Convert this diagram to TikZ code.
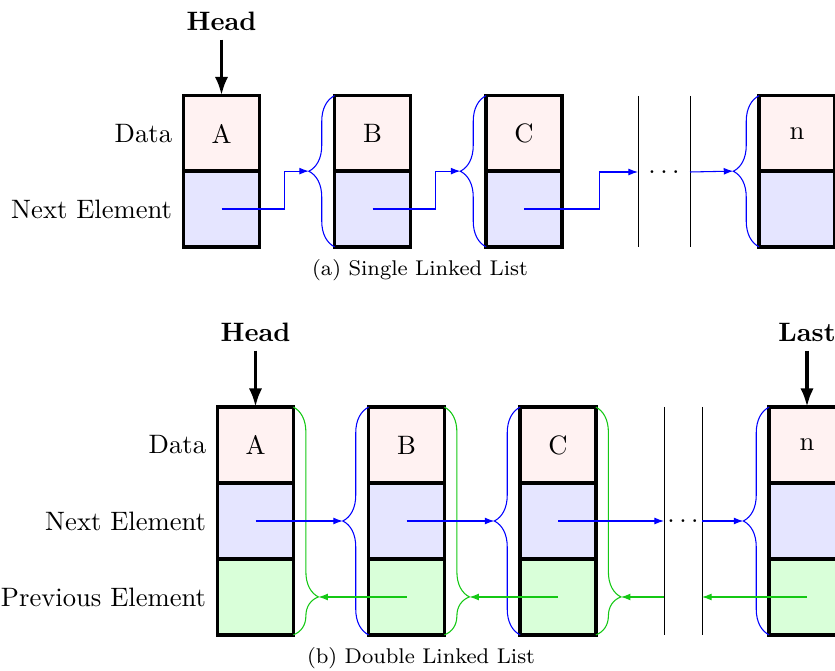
\documentclass[tikz,border=0pt]{standalone}
\usetikzlibrary{arrows.meta,decorations.pathreplacing,calc}
\definecolor{prevgreen}{RGB}{20,200,20}
\begin{document}
\begin{tikzpicture}[
  x=0.0131926cm, y=-0.0131926cm,
  cell/.style={draw, line width=1.3pt, minimum width=1cm, minimum height=1cm,
               inner sep=0pt, outer sep=0pt},
  datacell/.style={cell, fill=red!5},
  nextcell/.style={cell, fill=blue!10},
  prevcell/.style={cell, fill=green!15},
  rowlabel/.style={anchor=east, xshift=-0.8pt},
  nptr/.style={blue, line width=0.4pt, -{Latex[length=3.6pt,width=2.6pt]}},
  pptr/.style={prevgreen, line width=0.4pt, -{Latex[length=3.6pt,width=2.6pt]}},
  nbrace/.style={blue, line width=0.4pt, decorate, decoration={brace, amplitude=0.34cm}},
  pbrace/.style={prevgreen, line width=0.4pt, decorate, decoration={brace, amplitude=0.33cm, aspect=0.8333}},
  headarrow/.style={line width=1.5pt, -{Latex[length=7pt,width=5pt]}},
  sepline/.style={black, line width=0.35pt},
  caption/.style={font=\footnotesize}
]
\useasboundingbox (0,0) rectangle (835,671);
\clip (0,0) rectangle (835,671);

% ---------------- (a) single linked list ----------------
\foreach \n/\x/\t in {A1/221.5/A, B1/372.5/B, C1/524/C, N1/797/n} {
  \node[datacell] (\n d) at (\x,133.5) {\t};
  \node[nextcell] (\n n) at (\x,209) {};
}
\node[rowlabel] (lab1d) at (A1d.west) {Data};
\node[rowlabel] (lab1n) at (A1n.west) {Next Element};

\node[font=\bfseries] (head1) at (221.5,21) {Head};
\draw[headarrow] (head1) -- (A1d);

% gap between C and n
\coordinate (s1t) at (638,96);  \coordinate (s1b) at (638,247);
\coordinate (s2t) at (690,96);  \coordinate (s2b) at (690,247);
\draw[sepline] (s1t) -- (s1b);
\draw[sepline] (s2t) -- (s2b);
\node (dots1) at (664,172) {$\dots$};
\coordinate (g1) at (638,172);
\coordinate (g2) at (690,172);

% braces in front of each successor
\foreach \n in {B1, C1, N1}
  \draw[nbrace] (\n n.south west) -- (\n d.north west);
\coordinate (tB1) at ($(B1n.north west)+(-0.34cm,0)$);
\coordinate (tC1) at ($(C1n.north west)+(-0.34cm,0)$);
\coordinate (tN1) at ($(N1n.north west)+(-0.34cm,0)$);

% next pointers
\draw[nptr] (A1n.center) -| ($(A1n.east)!0.5!(tB1)$) |- (tB1);
\draw[nptr] (B1n.center) -| ($(B1n.east)!0.5!(tC1)$) |- (tC1);
\draw[nptr] (C1n.center) -| ($(C1n.east)!0.5!(g1)$) |- (g1);
\draw[nptr] (g2) -- (tN1);

\node[caption] (capa) at (420,270) {(a) Single Linked List};

% ---------------- (b) double linked list ----------------
\foreach \n/\x/\t in {A2/255.5/A, B2/406.5/B, C2/558/C, N2/807/n} {
  \node[datacell] (\n d) at (\x,445) {\t};
  \node[nextcell] (\n n) at (\x,521) {};
  \node[prevcell] (\n p) at (\x,597) {};
}
\node[rowlabel] (lab2d) at (A2d.west) {Data};
\node[rowlabel] (lab2n) at (A2n.west) {Next Element};
\node[rowlabel] (lab2p) at (A2p.west) {Previous Element};

\node[font=\bfseries] (head2) at (255.5,332) {Head};
\draw[headarrow] (head2) -- (A2d);
\node[font=\bfseries] (last2) at (807,332) {Last};
\draw[headarrow] (last2) -- (N2d);

\coordinate (s3t) at (664,407);  \coordinate (s3b) at (664,635);
\coordinate (s4t) at (702,407);  \coordinate (s4b) at (702,635);
\draw[sepline] (s3t) -- (s3b);
\draw[sepline] (s4t) -- (s4b);
\node (dots2) at (683,521) {$\dots$};
\coordinate (h1) at (664,521);
\coordinate (h2) at (702,521);
\coordinate (h1p) at (664,597);
\coordinate (h2p) at (702,597);

% next braces (left) and previous braces (right)
\foreach \n in {B2, C2, N2}
  \draw[nbrace] (\n p.south west) -- (\n d.north west);
\foreach \n in {A2, B2, C2}
  \draw[pbrace] (\n d.north east) -- (\n p.south east);
\coordinate (tB2) at ($(B2n.west)+(-0.34cm,0)$);
\coordinate (tC2) at ($(C2n.west)+(-0.34cm,0)$);
\coordinate (tN2) at ($(N2n.west)+(-0.34cm,0)$);
\coordinate (uA2) at ($(A2p.east)+(0.33cm,0)$);
\coordinate (uB2) at ($(B2p.east)+(0.33cm,0)$);
\coordinate (uC2) at ($(C2p.east)+(0.33cm,0)$);

% next pointers
\draw[nptr] (A2n.center) -- (tB2);
\draw[nptr] (B2n.center) -- (tC2);
\draw[nptr] (C2n.center) -- (h1);
\draw[nptr] (h2) -- (tN2);

% previous pointers
\draw[pptr] (B2p.center) -- (uA2);
\draw[pptr] (C2p.center) -- (uB2);
\draw[pptr] (h1p) -- (uC2);
\draw[pptr] (N2p.center) -- (h2p);

\node[caption] (capb) at (421,658) {(b) Double Linked List};
\end{tikzpicture}
\end{document}
